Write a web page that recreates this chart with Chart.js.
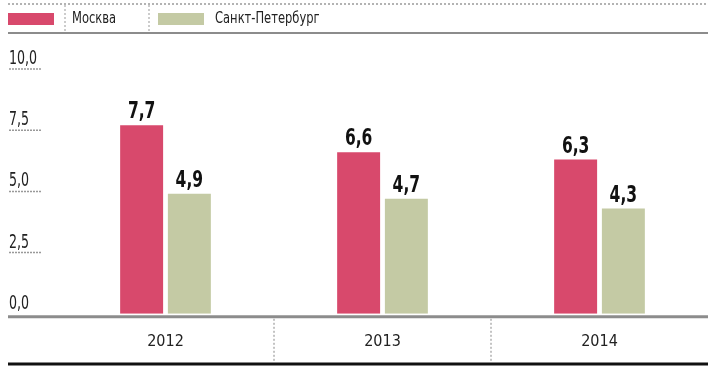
<!DOCTYPE html>
<html>
<head>
<meta charset="utf-8">
<script src="https://cdn.jsdelivr.net/npm/chart.js@4"></script>
<style>
  html, body { margin: 0; padding: 0; background: #fff; }
  #wrap { width: 708px; height: 370px; }
</style>
</head>
<body>
<div id="wrap"><canvas id="chart" width="708" height="370"></canvas></div>
<script>
const years = ['2012', '2013', '2014'];
const moscow = [7.7, 6.6, 6.3];
const spb = [4.9, 4.7, 4.3];
const seriesNames = ['Москва', 'Санкт-Петербург'];
const yTicks = [0, 2.5, 5, 7.5, 10];

const RED = '#d8496c';
const GREEN = '#c4caa4';
const TEXT = '#222';
const FONT = "'Liberation Sans Narrow', 'DejaVu Sans Condensed', 'Arial Narrow', sans-serif";

const fmt = v => v.toFixed(1).replace('.', ',');

// узкий текст: сжимаем по горизонтали
function narrowText(ctx, text, x, y, sx) {
  ctx.save();
  ctx.translate(x, y);
  ctx.scale(sx, 1);
  ctx.fillText(text, 0, 0);
  ctx.restore();
}

// рамка, легенда, подписи оси Y и значения над столбцами
const decor = {
  id: 'decor',
  beforeDraw(chart) {
    const ctx = chart.ctx;
    const W = chart.width;
    ctx.save();
    // пунктир сверху
    ctx.strokeStyle = '#9a9a9a';
    ctx.lineWidth = 1.5;
    ctx.setLineDash([2, 2]);
    ctx.beginPath(); ctx.moveTo(8, 4); ctx.lineTo(W, 4); ctx.stroke();
    // разделители легенды
    ctx.lineWidth = 1;
    [65, 149].forEach(x => {
      ctx.beginPath(); ctx.moveTo(x, 5); ctx.lineTo(x, 33); ctx.stroke();
    });
    ctx.setLineDash([]);
    ctx.strokeStyle = '#8c8c8c';
    ctx.lineWidth = 2;
    ctx.beginPath(); ctx.moveTo(8, 33); ctx.lineTo(W, 33); ctx.stroke();

    // легенда
    const ds = chart.data.datasets;
    const items = [{ x: 8, tx: 72 }, { x: 158, tx: 215 }];
    ctx.font = '16px ' + FONT;
    ctx.textBaseline = 'middle';
    ctx.textAlign = 'left';
    items.forEach((it, i) => {
      ctx.fillStyle = ds[i].backgroundColor;
      ctx.fillRect(it.x, 13, 46, 12);
      ctx.fillStyle = TEXT;
      narrowText(ctx, ds[i].label, it.tx, 19, 0.8);
    });

    // подписи оси Y с подчёркиванием
    const y = chart.scales.y;
    ctx.font = '20px ' + FONT;
    ctx.textBaseline = 'alphabetic';
    yTicks.forEach(v => {
      const py = y.getPixelForValue(v);
      ctx.fillStyle = TEXT;
      narrowText(ctx, fmt(v), 9, py - 5, 0.7);
      if (v > 0) {
        ctx.strokeStyle = '#999';
        ctx.lineWidth = 1.5;
        ctx.setLineDash([2, 1]);
        ctx.beginPath(); ctx.moveTo(9, py); ctx.lineTo(42, py); ctx.stroke();
        ctx.setLineDash([]);
      }
    });
    ctx.restore();
  },
  afterDatasetsDraw(chart) {
    const ctx = chart.ctx;
    const area = chart.chartArea;
    const W = chart.width;
    const xs = chart.scales.x;
    ctx.save();
    // базовая линия
    ctx.strokeStyle = '#8c8c8c';
    ctx.lineWidth = 3;
    ctx.beginPath(); ctx.moveTo(8, area.bottom + 3); ctx.lineTo(W, area.bottom + 3); ctx.stroke();
    // нижняя чёрная линия
    ctx.strokeStyle = '#111';
    ctx.lineWidth = 3;
    ctx.beginPath(); ctx.moveTo(8, 364); ctx.lineTo(W, 364); ctx.stroke();
    // пунктирные разделители между годами
    ctx.strokeStyle = '#888';
    ctx.lineWidth = 1;
    ctx.setLineDash([2, 2]);
    for (let i = 1; i < years.length; i++) {
      const x = (xs.getPixelForValue(i - 1) + xs.getPixelForValue(i)) / 2;
      ctx.beginPath(); ctx.moveTo(x, area.bottom + 5); ctx.lineTo(x, 362); ctx.stroke();
    }
    ctx.setLineDash([]);
    // значения над столбцами
    ctx.font = 'bold 23px ' + FONT;
    ctx.fillStyle = '#111';
    ctx.textAlign = 'center';
    ctx.textBaseline = 'alphabetic';
    chart.data.datasets.forEach((d, di) => {
      chart.getDatasetMeta(di).data.forEach((bar, i) => {
        narrowText(ctx, fmt(d.data[i]), bar.x, bar.y - 7, 0.75);
      });
    });
    ctx.restore();
  }
};

new Chart(document.getElementById('chart'), {
  type: 'bar',
  data: {
    labels: years,
    datasets: [
      { label: seriesNames[0], data: moscow, backgroundColor: RED },
      { label: seriesNames[1], data: spb, backgroundColor: GREEN }
    ]
  },
  options: {
    responsive: false,
    animation: false,
    events: [],
    layout: { padding: { top: 69, left: 57, right: 0, bottom: 1 } },
    datasets: { bar: { categoryPercentage: 0.44, barPercentage: 0.9 } },
    plugins: { legend: { display: false }, tooltip: { enabled: false } },
    scales: {
      x: {
        grid: { display: false, drawTicks: false },
        border: { display: false },
        ticks: { color: TEXT, font: { family: FONT, size: 16 }, padding: 18 }
      },
      y: {
        display: false,
        min: 0, max: 10,
        ticks: { stepSize: 2.5 }
      }
    }
  },
  plugins: [decor]
});
</script>
</body>
</html>
